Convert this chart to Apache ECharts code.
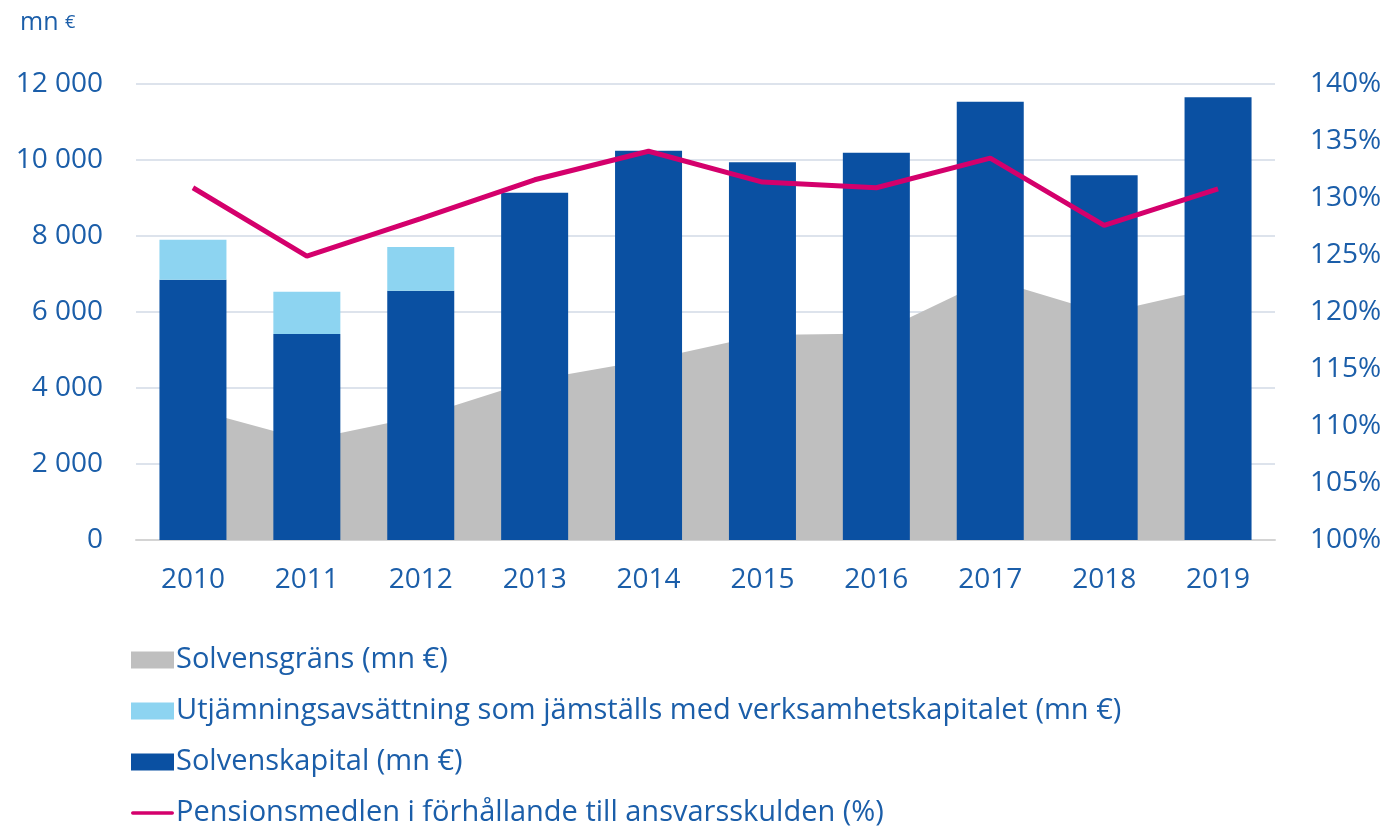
<!DOCTYPE html>
<html>
<head>
<meta charset="utf-8">
<script src="https://cdn.jsdelivr.net/npm/echarts@6/dist/echarts.min.js"></script>
<style>
html, body { margin: 0; padding: 0; background: #fff; }
#box { width: 1389px; height: 827px; }
</style>
</head>
<body>
<div id="box"></div>
<script>
var years = ['2010', '2011', '2012', '2013', '2014', '2015', '2016', '2017', '2018', '2019'];
var solvensgrans = [3450, 2630, 3255, 4210, 4740, 5395, 5435, 6870, 5965, 6650];     // grå yta
var utjamning = [1050, 1115, 1150, 0, 0, 0, 0, 0, 0, 0];                              // ljusblå
var solvenskapital = [6850, 5420, 6560, 9135, 10245, 9940, 10190, 11535, 9600, 11650]; // mörkblå
var pensionsmedel = [130.9, 124.9, 128.2, 131.6, 134.1, 131.4, 130.9, 133.5, 127.6, 130.8]; // %

var names = [
    'Solvensgräns (mn €)',
    'Utjämningsavsättning som jämställs med verksamhetskapitalet (mn €)',
    'Solvenskapital (mn €)',
    'Pensionsmedlen i förhållande till ansvarsskulden (%)'
];

var txt = '#1b5ea9';
var font = 'Open Sans';

var myChart = echarts.init(document.getElementById('box'));

var option = {
    backgroundColor: '#fff',
    textStyle: { fontFamily: font },
    animation: false,
    graphic: [{
        type: 'text',
        left: 20,
        top: 10,
        style: {
            text: '{a|mn }{b|€}',
            rich: {
                a: { fontFamily: font, fontSize: 25, fill: txt, color: txt },
                b: { fontFamily: font, fontSize: 18, fill: txt, color: txt }
            }
        }
    }],
    grid: {
        left: 136,
        right: 114,
        top: 84,
        bottom: 287
    },
    legend: {
        orient: 'vertical',
        left: 126,
        top: 640,
        height: 190,
        itemWidth: 43,
        itemHeight: 17,
        itemGap: 21,
        textStyle: {
            color: txt,
            fontSize: 29,
            fontFamily: font,
            lineHeight: 30,
            padding: [0, 0, 0, -3]
        },
        data: [
            { name: names[0], icon: 'rect' },
            { name: names[1], icon: 'rect' },
            { name: names[2], icon: 'rect' },
            { name: names[3], icon: 'path://M2,0h44a2,2 0 0 1 0,4h-44a2,2 0 0 1 0,-4z' }
        ]
    },
    xAxis: [{
        type: 'category',
        data: years,
        axisTick: { show: false },
        axisLine: { lineStyle: { color: '#d4d4d4', width: 2 } },
        axisLabel: { color: txt, fontSize: 28, margin: 26, fontFamily: font }
    }],
    yAxis: [{
        type: 'value',
        min: 0,
        max: 12000,
        interval: 2000,
        axisLine: { show: false },
        axisTick: { show: false },
        splitLine: { lineStyle: { color: '#dde3ec', width: 2 } },
        axisLabel: {
            color: txt,
            fontSize: 28,
            margin: 33,
            fontFamily: font,
            formatter: function (v) {
                return String(v).replace(/\B(?=(\d{3})+(?!\d))/g, ' ');
            }
        }
    }, {
        type: 'value',
        min: 100,
        max: 140,
        interval: 5,
        axisLine: { show: false },
        axisTick: { show: false },
        splitLine: { show: false },
        axisLabel: {
            color: txt,
            fontSize: 28,
            margin: 35,
            fontFamily: font,
            formatter: '{value}%'
        }
    }],
    series: [{
        name: names[0],
        type: 'line',
        data: solvensgrans,
        symbol: 'none',
        lineStyle: { width: 0 },
        itemStyle: { color: '#bfbfbf' },
        areaStyle: { color: '#bfbfbf', opacity: 1 },
        z: 1
    }, {
        name: names[2],
        type: 'bar',
        stack: 'kap',
        data: solvenskapital,
        barWidth: 67,
        itemStyle: { color: '#0a50a2' },
        z: 2
    }, {
        name: names[1],
        type: 'bar',
        stack: 'kap',
        data: utjamning,
        barWidth: 67,
        itemStyle: { color: '#8dd4f1' },
        z: 2
    }, {
        name: names[3],
        type: 'line',
        yAxisIndex: 1,
        data: pensionsmedel,
        symbol: 'none',
        lineStyle: { color: '#d4006c', width: 5 },
        itemStyle: { color: '#d4006c' },
        z: 3
    }]
};

myChart.setOption(option);
</script>
</body>
</html>
